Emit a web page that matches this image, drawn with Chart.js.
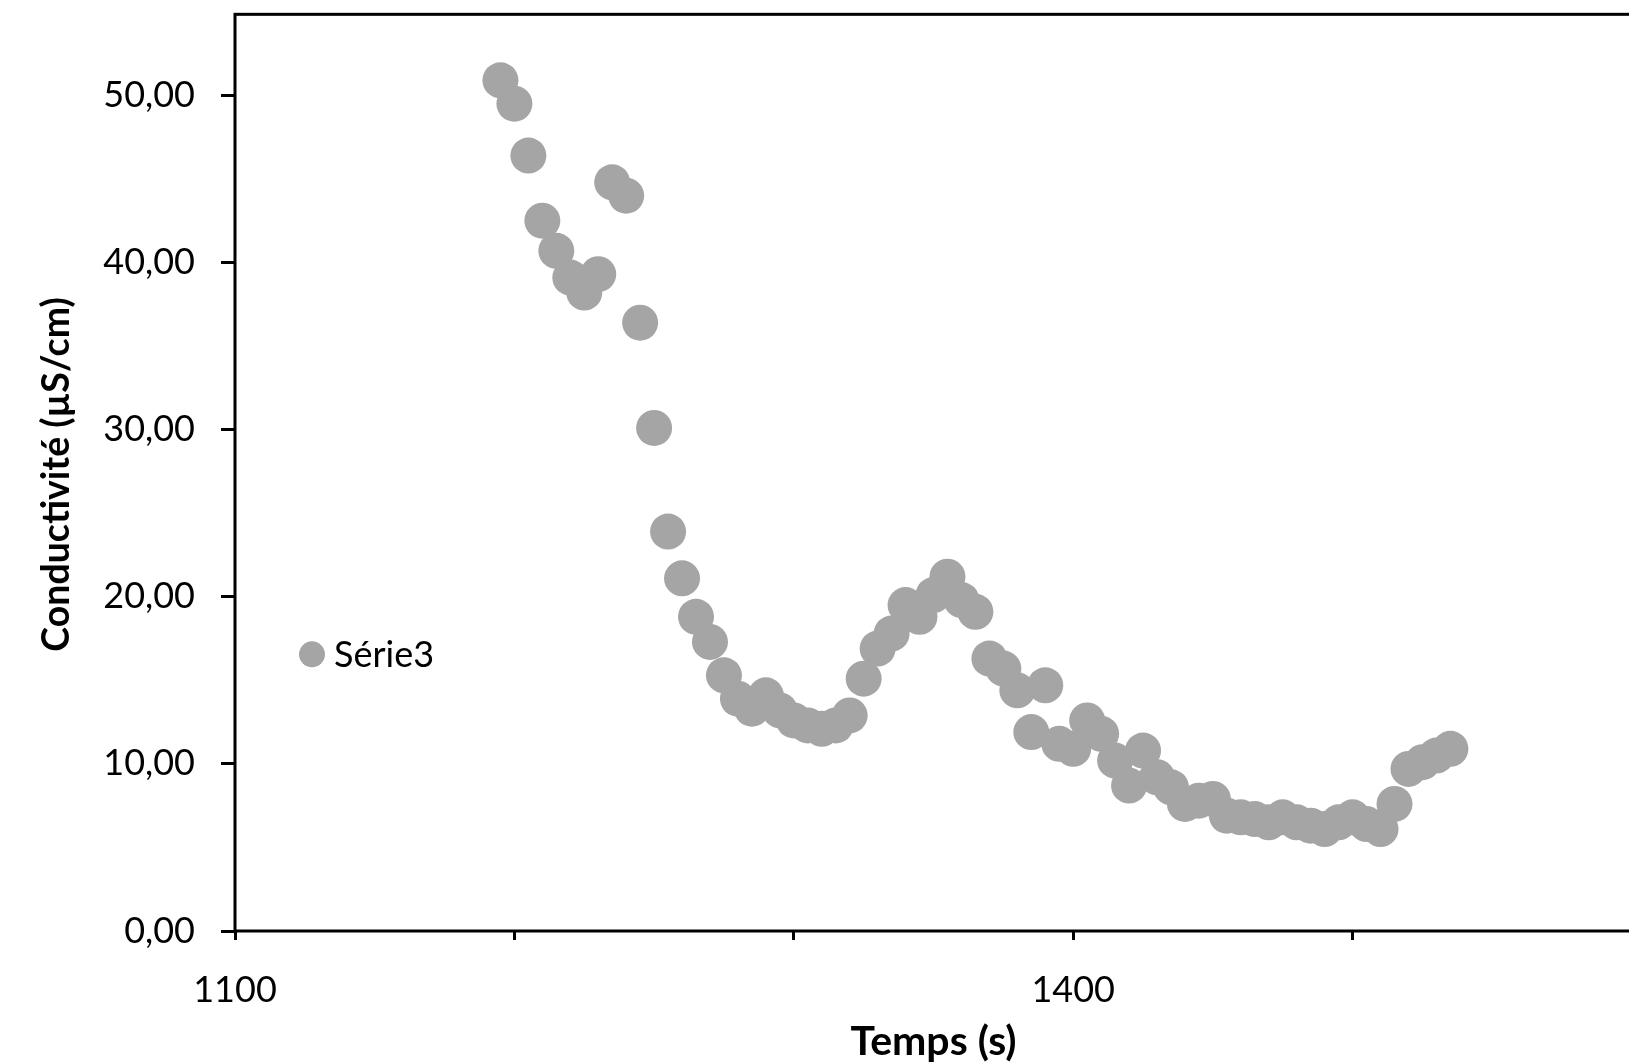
<!DOCTYPE html>
<html>
<head>
<meta charset="utf-8">
<script src="https://cdn.jsdelivr.net/npm/chart.js@4.4.1/dist/chart.umd.min.js"></script>
<style>
html,body{margin:0;padding:0;background:#fff;overflow:hidden;width:1629px;height:1064px}
#wrap{position:absolute;left:0;top:0;width:1650px;height:1064px}
</style>
</head>
<body>
<div id="wrap"><canvas id="c" width="1650" height="1064"></canvas></div>
<script>
const seriesName = 'Série3';
const xTitle = 'Temps (s)';
const yTitle = 'Conductivité (µS/cm)';

const timeValues = [
  1195, 1200, 1205, 1210, 1215, 1220, 1225, 1230, 1235, 1240,
  1245, 1250, 1255, 1260, 1265, 1270, 1275, 1280, 1285, 1290,
  1295, 1300, 1305, 1310, 1315, 1320, 1325, 1330, 1335, 1340,
  1345, 1350, 1355, 1360, 1365, 1370, 1375, 1380, 1385, 1390,
  1395, 1400, 1405, 1410, 1415, 1420, 1425, 1430, 1435, 1440,
  1445, 1450, 1455, 1460, 1465, 1470, 1475, 1480, 1485, 1490,
  1495, 1500, 1505, 1510, 1515, 1520, 1525, 1530, 1535
];
const conductivityValues = [
  50.9, 49.5, 46.4, 42.5, 40.7, 39.1, 38.2, 39.3, 44.8, 44.0,
  36.4, 30.1, 23.9, 21.1, 18.8, 17.3, 15.3, 13.9, 13.3, 14.1,
  13.2, 12.6, 12.3, 12.1, 12.3, 12.9, 15.1, 16.9, 17.8, 19.5,
  18.8, 20.1, 21.2, 19.8, 19.1, 16.3, 15.7, 14.4, 11.9, 14.7,
  11.2, 10.9, 12.6, 11.8, 10.2, 8.7, 10.8, 9.2, 8.6, 7.6,
  7.8, 7.9, 6.9, 6.8, 6.7, 6.5, 6.8, 6.5, 6.3, 6.1,
  6.5, 6.8, 6.4, 6.1, 7.6, 9.7, 10.1, 10.5, 10.9
];

const yTickValues = [0, 10, 20, 30, 40, 50];
const xTickValues = [1100, 1200, 1300, 1400, 1500, 1600];
const xTickLabels = ['1100', '1400'];
const plotTopValue = 54.85;

const points = timeValues.map((t, i) => ({ x: t, y: conductivityValues[i] }));

const framePlugin = {
  id: 'frame',
  beforeDatasetsDraw(chart) {
    const { ctx, chartArea: a, scales } = chart;
    const top = Math.min(a.top, scales.y.getPixelForValue(plotTopValue));
    ctx.save();
    ctx.strokeStyle = '#000';
    ctx.lineWidth = 3;
    ctx.strokeRect(a.left, top, a.right - a.left, a.bottom - top);
    ctx.restore();
  }
};

const innerLegend = {
  id: 'innerLegend',
  afterDraw(chart) {
    const { ctx, chartArea: a } = chart;
    const ds = chart.data.datasets[0];
    const cx = a.left + 77;
    const cy = a.top + (a.bottom - a.top) * 0.697;
    ctx.save();
    ctx.fillStyle = ds.backgroundColor;
    ctx.beginPath();
    ctx.arc(cx, cy, 13, 0, Math.PI * 2);
    ctx.fill();
    ctx.fillStyle = '#000';
    ctx.font = '36px Lato';
    ctx.textAlign = 'left';
    ctx.textBaseline = 'middle';
    ctx.fillText(ds.label, cx + 22, cy + 1);
    ctx.restore();
  }
};

new Chart(document.getElementById('c'), {
  type: 'scatter',
  data: {
    datasets: [{
      label: seriesName,
      data: points,
      backgroundColor: '#A5A5A5',
      borderColor: '#A5A5A5',
      borderWidth: 0,
      pointRadius: 18,
      pointHoverRadius: 18
    }]
  },
  options: {
    responsive: false,
    animation: false,
    devicePixelRatio: 1,
    layout: { padding: { top: 10, right: 8, left: 0, bottom: 0 } },
    plugins: { legend: { display: false }, tooltip: { enabled: false } },
    scales: {
      x: {
        type: 'linear',
        position: 'bottom',
        min: 1100,
        max: 1600,
        afterBuildTicks: s => { s.ticks = xTickValues.map(v => ({ value: v })); },
        afterFit: s => { s.height = 133; s.paddingLeft = 0; s.paddingRight = 0; },
        grid: { drawOnChartArea: false, drawTicks: true, tickLength: 9, lineWidth: 3, color: '#000', tickColor: '#000' },
        border: { display: false },
        ticks: {
          autoSkip: false, maxRotation: 0, minRotation: 0, padding: 29, color: '#000',
          font: { family: 'Lato', size: 36 },
          callback: v => xTickLabels.includes(String(v)) ? String(v) : ''
        },
        title: {
          display: true, text: xTitle, color: '#000',
          font: { family: 'Lato', size: 41, weight: 'bold' },
          padding: { top: 0, bottom: -2 }
        }
      },
      y: {
        type: 'linear',
        min: 0,
        max: 54.63,
        afterBuildTicks: s => { s.ticks = yTickValues.map(v => ({ value: v })); },
        afterFit: s => { s.width = 235; s.paddingTop = 0; s.paddingBottom = 0; },
        grid: { drawOnChartArea: false, drawTicks: true, tickLength: 14, lineWidth: 3, color: '#000', tickColor: '#000' },
        border: { display: false },
        ticks: {
          padding: 26, color: '#000',
          font: { family: 'Lato', size: 36 },
          callback: v => Number(v).toFixed(2).replace('.', ',')
        },
        title: {
          display: true, text: yTitle, color: '#000',
          font: { family: 'Lato', size: 37.5, weight: 'bold' },
          padding: { top: 34, bottom: 0 }
        }
      }
    }
  },
  plugins: [framePlugin, innerLegend]
});
</script>
</body>
</html>
